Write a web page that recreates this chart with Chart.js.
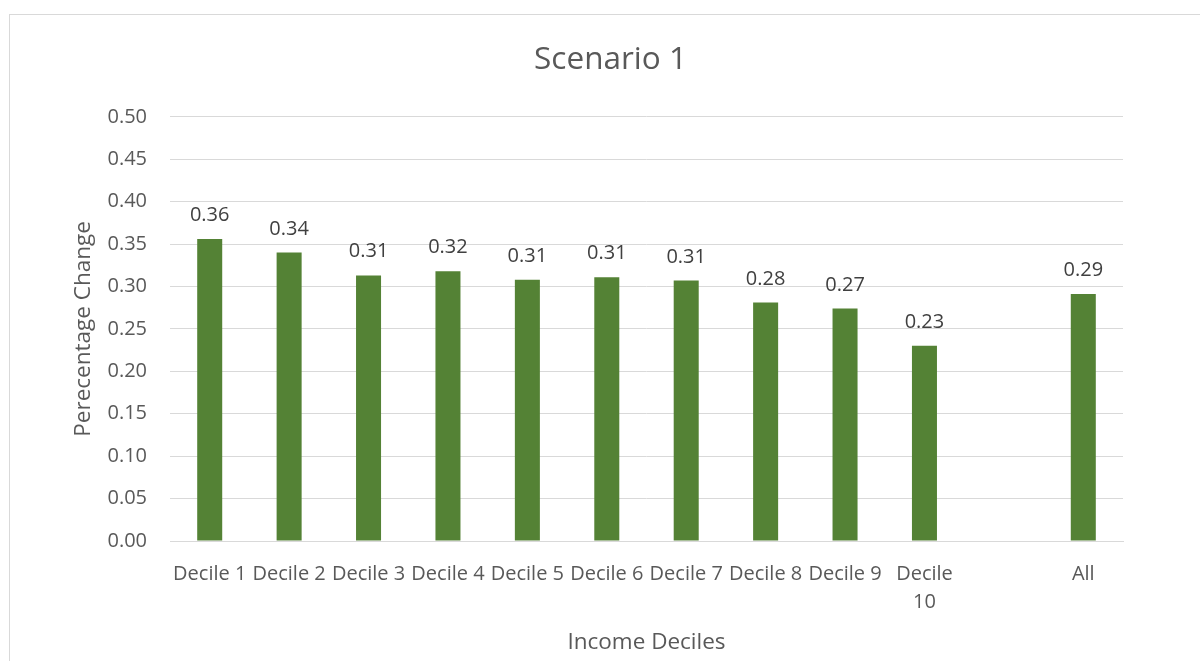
<!DOCTYPE html>
<html>
<head>
<meta charset="utf-8">
<title>Scenario 1</title>
<script src="https://cdn.jsdelivr.net/npm/chart.js@4.4.1/dist/chart.umd.min.js"></script>
<style>
    html, body { margin: 0; padding: 0; background: #ffffff; }
    #wrap { position: relative; width: 1200px; height: 661px; }
</style>
</head>
<body>
<div id="wrap"><canvas id="myChart" width="1200" height="661"></canvas></div>
<script>
// Chart data
const categories = ['Decile 1', 'Decile 2', 'Decile 3', 'Decile 4', 'Decile 5',
    'Decile 6', 'Decile 7', 'Decile 8', 'Decile 9', ['Decile', '10'], '', 'All'];
const changeValues = [0.356, 0.340, 0.313, 0.318, 0.308, 0.311, 0.307, 0.281, 0.274, 0.230, null, 0.291];
const yTickValues = [0, 0.05, 0.10, 0.15, 0.20, 0.25, 0.30, 0.35, 0.40, 0.45, 0.50];

const chartTitle = 'Scenario 1';
const xTitle = 'Income Deciles';
const yTitle = 'Perecentage Change';

const textGrey = '#595959';
const gridGrey = '#d9d9d9';
const barGreen = '#548235';
const fontFamily = "'Open Sans', 'DejaVu Sans', sans-serif";

// Outer frame like the Excel chart border
const frameBorder = {
    id: 'frameBorder',
    beforeDraw: (chart) => {
        const { ctx } = chart;
        ctx.save();
        ctx.fillStyle = '#ffffff';
        ctx.fillRect(0, 0, chart.width, chart.height);
        ctx.strokeStyle = gridGrey;
        ctx.lineWidth = 1;
        ctx.strokeRect(9.5, 14.5, 1400, 900);
        ctx.restore();
    }
};

// Value labels above each bar
const barValueLabels = {
    id: 'barValueLabels',
    afterDatasetsDraw: (chart) => {
        const { ctx } = chart;
        const meta = chart.getDatasetMeta(0);
        ctx.save();
        ctx.font = '20px ' + fontFamily;
        ctx.fillStyle = '#404040';
        ctx.textAlign = 'center';
        ctx.textBaseline = 'alphabetic';
        meta.data.forEach((bar, i) => {
            const v = changeValues[i];
            if (v === null) return;
            ctx.fillText(v.toFixed(2), bar.x, bar.y - 18);
        });
        ctx.restore();
    }
};

const ctx = document.getElementById('myChart').getContext('2d');
const myChart = new Chart(ctx, {
    type: 'bar',
    data: {
        labels: categories,
        datasets: [{
            label: 'Percentage Change',
            data: changeValues,
            backgroundColor: barGreen,
            borderWidth: 0,
            categoryPercentage: 1.0,
            barPercentage: 0.315
        }]
    },
    options: {
        responsive: false,
        animation: false,
        // left padding moves the title centre to the middle of the framed box
        layout: { padding: { left: 21, right: 0, top: 0, bottom: 0 } },
        plugins: {
            legend: { display: false },
            tooltip: { enabled: false },
            title: {
                display: true,
                text: chartTitle,
                color: textGrey,
                font: { family: fontFamily, size: 31.5, weight: 'normal', lineHeight: 1.2 },
                padding: { top: 41, bottom: 38 }
            }
        },
        scales: {
            x: {
                grid: { display: false, drawTicks: false },
                border: { display: true, color: gridGrey, width: 1 },
                ticks: {
                    color: textGrey,
                    font: { family: fontFamily, size: 20, lineHeight: 1.4 },
                    padding: 19,
                    autoSkip: false,
                    maxRotation: 0,
                    minRotation: 0
                },
                title: {
                    display: true,
                    text: xTitle,
                    color: textGrey,
                    font: { family: fontFamily, size: 22.5, lineHeight: 1.2 },
                    padding: { top: 0, bottom: 5 }
                },
                afterFit: (scale) => { scale.height = 120; }
            },
            y: {
                min: 0,
                max: 0.5,
                afterBuildTicks: (scale) => {
                    scale.ticks = yTickValues.map(v => ({ value: v }));
                },
                grid: { color: gridGrey, lineWidth: 1, drawTicks: false },
                border: { display: false },
                ticks: {
                    color: textGrey,
                    font: { family: fontFamily, size: 20 },
                    padding: 23,
                    callback: (v) => Number(v).toFixed(2)
                },
                title: {
                    display: true,
                    text: yTitle,
                    color: textGrey,
                    font: { family: fontFamily, size: 22.5, lineHeight: 1.2 },
                    padding: { top: 49, bottom: 0 }
                },
                afterFit: (scale) => { scale.width = 149; }
            },
            // empty right-hand space so the plot ends where the reference does
            yRight: {
                position: 'right',
                min: 0,
                max: 0.5,
                grid: { display: false, drawOnChartArea: false, drawTicks: false },
                border: { display: false },
                ticks: { display: false },
                afterFit: (scale) => { scale.width = 77; }
            }
        }
    },
    plugins: [frameBorder, barValueLabels]
});
</script>
</body>
</html>
